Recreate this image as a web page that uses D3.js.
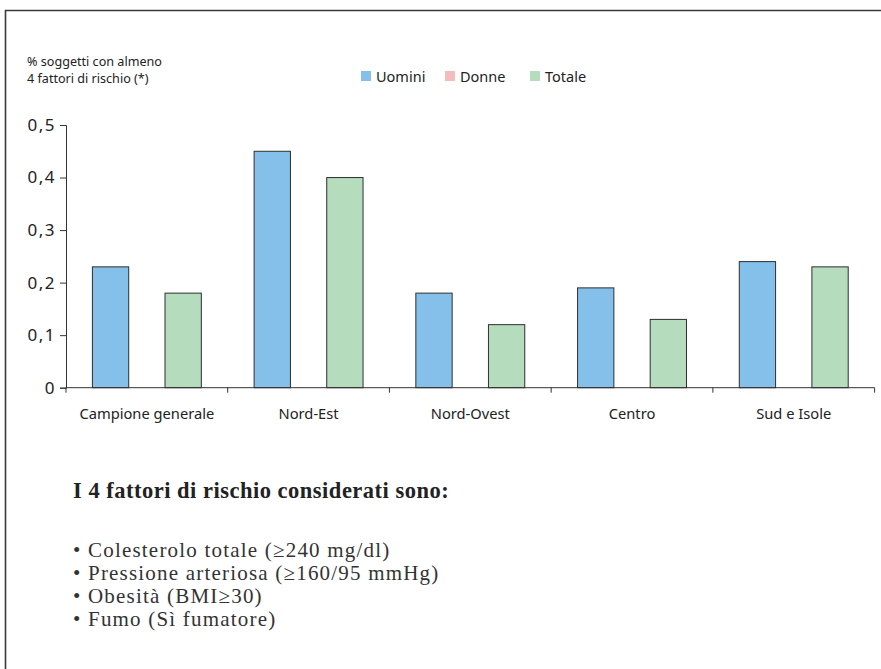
<!DOCTYPE html>
<html>
<head>
<meta charset="utf-8">
<script src="https://cdn.jsdelivr.net/npm/d3@7"></script>
<style>
  html, body { margin: 0; padding: 0; background: #fff; }
  svg { display: block; }
</style>
</head>
<body>
<svg id="chart" width="881" height="669"></svg>
<script>
// Areas and series
const areas = ["Campione generale", "Nord-Est", "Nord-Ovest", "Centro", "Sud e Isole"];
const seriesNames = ["Uomini", "Donne", "Totale"];
const uomini = [0.23, 0.45, 0.18, 0.19, 0.24];
const donne  = [0, 0, 0, 0, 0];
const totale = [0.18, 0.40, 0.12, 0.13, 0.23];
const yTicks = [0, 0.1, 0.2, 0.3, 0.4, 0.5];
const seriesColors = ["#85c0ea", "#f4bdbd", "#b5dcbd"];
const titleLines = ["% soggetti con almeno", "4 fattori di rischio (*)"];
const noteTitle = "I 4 fattori di rischio considerati sono:";
const noteItems = [
  "Colesterolo totale (\u2265240 mg/dl)",
  "Pressione arteriosa (\u2265160/95 mmHg)",
  "Obesit\u00e0 (BMI\u226530)",
  "Fumo (S\u00ec fumatore)"
];

const values = [uomini, donne, totale];
const rows = areas.map((a, i) => ({ area: a, vals: values.map(v => v[i]) }));

const svg = d3.select("#chart");
const sans = "'Noto Sans', 'Open Sans', sans-serif";
const serif = "'Liberation Serif', 'DejaVu Serif', serif";

// Frame: top and left rules
svg.append("path")
  .attr("d", "M5.5,669 V10.5 H881")
  .attr("fill", "none")
  .attr("stroke", "#3a3a3a")
  .attr("stroke-width", 1.6);

const plotLeft = 66, plotRight = 874.6, plotTop = 125, plotBottom = 387.7;

const x0 = d3.scaleBand().domain(areas).range([plotLeft, plotRight]).padding(0);
const x1 = d3.scaleBand().domain(seriesNames).range([0, x0.bandwidth()])
  .paddingInner(0).paddingOuter(0.727);
const y = d3.scaleLinear().domain([0, 0.5]).range([plotBottom, plotTop]);

// Bars
const groups = svg.append("g").selectAll("g").data(rows).join("g")
  .attr("transform", d => `translate(${x0(d.area)},0)`);
groups.selectAll("rect")
  .data(d => d.vals.map((v, k) => ({ name: seriesNames[k], v, k })).filter(e => e.v > 0))
  .join("rect")
  .attr("x", e => x1(e.name))
  .attr("y", e => y(e.v))
  .attr("width", x1.bandwidth())
  .attr("height", e => y(0) - y(e.v))
  .attr("fill", e => seriesColors[e.k])
  .attr("stroke", "#2e2e2e")
  .attr("stroke-width", 1);

// Y axis
const yAxis = svg.append("g")
  .attr("transform", `translate(${plotLeft},0)`)
  .call(d3.axisLeft(y).tickValues(yTicks).tickSize(6).tickPadding(4)
    .tickFormat(d => d3.format(".1f")(d).replace(".", ",").replace(/^0,0$/, "0")));
yAxis.select(".domain").attr("stroke", "#333").attr("stroke-width", 1);
yAxis.selectAll(".tick line").attr("stroke", "#333");
yAxis.selectAll("text")
  .attr("font-family", sans).attr("font-size", 17).attr("letter-spacing", 1.5)
  .attr("fill", "#222");

// X axis: ticks at category boundaries
const xAxisG = svg.append("g").attr("transform", `translate(0,${plotBottom})`);
xAxisG.append("line")
  .attr("x1", plotLeft).attr("x2", plotRight).attr("y1", 0).attr("y2", 0)
  .attr("stroke", "#333").attr("stroke-width", 1);
const bounds = areas.map(a => x0(a)).concat([plotRight]);
xAxisG.selectAll("line.tk").data(bounds).join("line")
  .attr("class", "tk")
  .attr("x1", d => d).attr("x2", d => d)
  .attr("y1", 0).attr("y2", 5)
  .attr("stroke", "#333");
xAxisG.selectAll("text").data(areas).join("text")
  .attr("x", d => x0(d) + x0.bandwidth() / 2)
  .attr("y", 31)
  .attr("text-anchor", "middle")
  .attr("font-family", sans).attr("font-size", 14.7).attr("fill", "#222")
  .text(d => d);

// Axis title
svg.append("g").selectAll("text").data(titleLines).join("text")
  .attr("x", 27).attr("y", (d, i) => 66 + i * 16.5)
  .attr("font-family", sans).attr("font-size", 12.6).attr("fill", "#222")
  .text(d => d);

// Legend
const legendX = [361, 445, 530];
const legend = svg.append("g").selectAll("g").data(seriesNames).join("g")
  .attr("transform", (d, i) => `translate(${legendX[i]},71)`);
legend.append("rect")
  .attr("width", 10).attr("height", 10)
  .attr("fill", (d, i) => seriesColors[i]);
legend.append("text")
  .attr("x", 15).attr("y", 10.5)
  .attr("font-family", sans).attr("font-size", 14.5).attr("fill", "#222")
  .text(d => d);

// Notes below the chart
svg.append("text")
  .attr("x", 73).attr("y", 498)
  .attr("font-family", serif).attr("font-size", 22.5).attr("font-weight", "bold")
  .attr("letter-spacing", 0.5)
  .attr("fill", "#222")
  .text(noteTitle);
svg.append("g").selectAll("text").data(noteItems).join("text")
  .attr("x", 73).attr("y", (d, i) => 557 + i * 23)
  .attr("font-family", serif).attr("font-size", 21).attr("letter-spacing", 1.2)
  .attr("fill", "#333")
  .text(d => "\u2022 " + d);
</script>
</body>
</html>
